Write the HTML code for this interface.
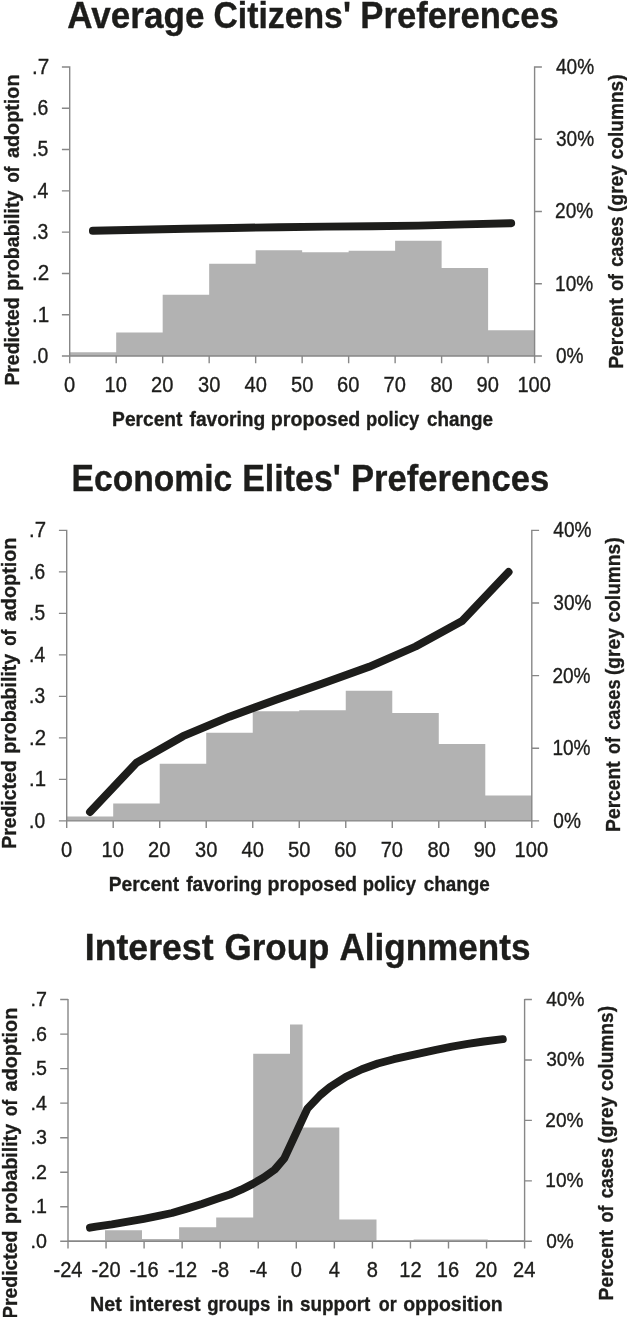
<!DOCTYPE html>
<html lang="en">
<head>
<meta charset="utf-8">
<title>Predicted probability of policy adoption</title>
<style>
html,body{margin:0;padding:0;background:#fff}
svg{display:block}
text{font-family:"Liberation Sans", sans-serif;fill:#1d1d1b;stroke:#1d1d1b;stroke-width:0.35px}
</style>
</head>
<body>
<svg width="627" height="1317" viewBox="0 0 627 1317">
<rect width="627" height="1317" fill="#fff"/>
<path d="M69.7 356V352.2H116.19V356ZM116.19 356V332.6H162.68V356ZM162.68 356V294.7H209.17V356ZM209.17 356V263.7H255.66V356ZM255.66 356V250.3H302.15V356ZM302.15 356V252.2H348.64V356ZM348.64 356V250.7H395.13V356ZM395.13 356V240.7H441.62V356ZM441.62 356V267.9H488.11V356ZM488.11 356V330.3H534.6V356ZM66.7 820.9V816.5H113.21V820.9ZM113.21 820.9V803.6H159.72V820.9ZM159.72 820.9V763.8H206.23V820.9ZM206.23 820.9V732.7H252.74V820.9ZM252.74 820.9V711.2H299.25V820.9ZM299.25 820.9V710.3H345.76V820.9ZM345.76 820.9V690.7H392.27V820.9ZM392.27 820.9V713H438.78V820.9ZM438.78 820.9V744.1H485.29V820.9ZM485.29 820.9V795.4H531.8V820.9ZM68 1241.3V1240.3H105V1241.3ZM105 1241.3V1230.2H142V1241.3ZM142 1241.3V1239H179.1V1241.3ZM179.1 1241.3V1227.3H216.2V1241.3ZM216.2 1241.3V1217.5H253.2V1241.3ZM253.2 1241.3V1053.7H290V1241.3ZM290 1241.3V1024.5H302.6V1241.3ZM302.6 1241.3V1127.5H339.3V1241.3ZM339.3 1241.3V1219.6H376.5V1241.3ZM376.5 1241.3V1240.2H413.6V1241.3ZM413.6 1241.3V1239.4H487.8V1241.3ZM487.8 1241.3V1240H524.6V1241.3Z" fill="#b2b2b2"/>
<path d="M69.7 66.35L69.7 363.2M534.6 66.35L534.6 363.2M61.9 356L541.9 356M61.9 67L69.7 67M61.9 108.29L69.7 108.29M61.9 149.57L69.7 149.57M61.9 190.86L69.7 190.86M61.9 232.14L69.7 232.14M61.9 273.43L69.7 273.43M61.9 314.71L69.7 314.71M534.6 67L541.9 67M534.6 139.25L541.9 139.25M534.6 211.5L541.9 211.5M534.6 283.75L541.9 283.75M116.19 356L116.19 363.2M162.68 356L162.68 363.2M209.17 356L209.17 363.2M255.66 356L255.66 363.2M302.15 356L302.15 363.2M348.64 356L348.64 363.2M395.13 356L395.13 363.2M441.62 356L441.62 363.2M488.11 356L488.11 363.2M66.7 529.75L66.7 828.1M531.8 529.75L531.8 828.1M58.9 820.9L539.1 820.9M58.9 530.4L66.7 530.4M58.9 571.9L66.7 571.9M58.9 613.4L66.7 613.4M58.9 654.9L66.7 654.9M58.9 696.4L66.7 696.4M58.9 737.9L66.7 737.9M58.9 779.4L66.7 779.4M531.8 530.4L539.1 530.4M531.8 603.02L539.1 603.02M531.8 675.65L539.1 675.65M531.8 748.27L539.1 748.27M113.21 820.9L113.21 828.1M159.72 820.9L159.72 828.1M206.23 820.9L206.23 828.1M252.74 820.9L252.74 828.1M299.25 820.9L299.25 828.1M345.76 820.9L345.76 828.1M392.27 820.9L392.27 828.1M438.78 820.9L438.78 828.1M485.29 820.9L485.29 828.1M68 998.9L68 1248.5M524.6 998.9L524.6 1248.5M60.2 1241.3L531.9 1241.3M60.2 999.55L68 999.55M60.2 1034.09L68 1034.09M60.2 1068.62L68 1068.62M60.2 1103.16L68 1103.16M60.2 1137.69L68 1137.69M60.2 1172.23L68 1172.23M60.2 1206.76L68 1206.76M524.6 999.55L531.9 999.55M524.6 1059.99L531.9 1059.99M524.6 1120.42L531.9 1120.42M524.6 1180.86L531.9 1180.86M106.05 1241.3L106.05 1248.5M144.1 1241.3L144.1 1248.5M182.15 1241.3L182.15 1248.5M220.2 1241.3L220.2 1248.5M258.25 1241.3L258.25 1248.5M296.3 1241.3L296.3 1248.5M334.35 1241.3L334.35 1248.5M372.4 1241.3L372.4 1248.5M410.45 1241.3L410.45 1248.5M448.5 1241.3L448.5 1248.5M486.55 1241.3L486.55 1248.5" fill="none" stroke="#878787" stroke-width="1.4"/>
<g fill="none" stroke="#1d1d1b" stroke-width="7.9" stroke-linecap="round" stroke-linejoin="round">
<path d="M92.9 230.8L139.4 229.7L185.9 228.7L232.4 227.95L278.9 227.2L325.4 226.6L371.9 226.2L418.4 225.6L464.9 224.4L511.2 223.2"/>
<path d="M90 812L136.5 762.7L183 736.2L229.5 716.7L276 699.8L322.6 683.5L369.1 666.8L415.6 646.5L462.1 621L508.6 572"/>
<path d="M90 1227.7L96 1226.6L111.9 1224.4L127.8 1221.7L143.8 1218.8L159.7 1215.6L172 1213L186 1208.9L201.9 1204L217.8 1198.6L230 1194.5L241.2 1189.7L252.3 1184.1L263.5 1177.6L274.7 1169.6L284.4 1158.2L307.4 1108.6L320.2 1095.1L330 1087L346 1076.7L361.9 1069.2L377.8 1063.5L393.8 1059.2L409.7 1055.6L420 1053.4L436 1049.8L451.9 1046.6L467.8 1043.9L483.8 1041.5L502.8 1039.2"/>
</g>
<text font-size="36.3" font-weight="bold" y="27.6"><tspan x="67.3" textLength="137.15" lengthAdjust="spacingAndGlyphs">Average</tspan> <tspan x="213.47" textLength="137.45" lengthAdjust="spacingAndGlyphs">Citizens'</tspan> <tspan x="360.29" textLength="198.54" lengthAdjust="spacingAndGlyphs">Preferences</tspan></text>
<text font-size="36.3" font-weight="bold" y="491"><tspan x="71.55" textLength="160.73" lengthAdjust="spacingAndGlyphs">Economic</tspan> <tspan x="242.23" textLength="98.7" lengthAdjust="spacingAndGlyphs">Elites'</tspan> <tspan x="350.89" textLength="198.34" lengthAdjust="spacingAndGlyphs">Preferences</tspan></text>
<text font-size="36.3" font-weight="bold" y="959.7"><tspan x="84.73" textLength="128.85" lengthAdjust="spacingAndGlyphs">Interest</tspan> <tspan x="224.44" textLength="104.99" lengthAdjust="spacingAndGlyphs">Group</tspan> <tspan x="339.4" textLength="191.05" lengthAdjust="spacingAndGlyphs">Alignments</tspan></text>
<text font-size="21" font-weight="bold" y="425.9"><tspan x="112.09" textLength="70.41" lengthAdjust="spacingAndGlyphs">Percent</tspan> <tspan x="189.5" textLength="75.76" lengthAdjust="spacingAndGlyphs">favoring</tspan> <tspan x="270.86" textLength="89.51" lengthAdjust="spacingAndGlyphs">proposed</tspan> <tspan x="366.12" textLength="53.2" lengthAdjust="spacingAndGlyphs">policy</tspan> <tspan x="427" textLength="66.01" lengthAdjust="spacingAndGlyphs">change</tspan></text>
<text font-size="21" font-weight="bold" y="890.6"><tspan x="108.79" textLength="70.41" lengthAdjust="spacingAndGlyphs">Percent</tspan> <tspan x="186.2" textLength="75.76" lengthAdjust="spacingAndGlyphs">favoring</tspan> <tspan x="267.56" textLength="89.51" lengthAdjust="spacingAndGlyphs">proposed</tspan> <tspan x="362.82" textLength="53.2" lengthAdjust="spacingAndGlyphs">policy</tspan> <tspan x="423.7" textLength="66.01" lengthAdjust="spacingAndGlyphs">change</tspan></text>
<text font-size="21" font-weight="bold" y="1310.8"><tspan x="90.06" textLength="31.73" lengthAdjust="spacingAndGlyphs">Net</tspan> <tspan x="129.26" textLength="71.23" lengthAdjust="spacingAndGlyphs">interest</tspan> <tspan x="207.2" textLength="63.2" lengthAdjust="spacingAndGlyphs">groups</tspan> <tspan x="276.92" textLength="16.41" lengthAdjust="spacingAndGlyphs">in</tspan> <tspan x="300" textLength="70.39" lengthAdjust="spacingAndGlyphs">support</tspan> <tspan x="378.7" textLength="17.95" lengthAdjust="spacingAndGlyphs">or</tspan> <tspan x="403.2" textLength="99.57" lengthAdjust="spacingAndGlyphs">opposition</tspan></text>
<text font-size="21" font-weight="bold" transform="translate(19 0) rotate(-90)" y="0"><tspan x="-385.62" textLength="88.29" lengthAdjust="spacingAndGlyphs">Predicted</tspan> <tspan x="-290.63" textLength="99.93" lengthAdjust="spacingAndGlyphs">probability</tspan> <tspan x="-182.6" textLength="15.99" lengthAdjust="spacingAndGlyphs">of</tspan> <tspan x="-158.1" textLength="83.68" lengthAdjust="spacingAndGlyphs">adoption</tspan></text>
<text font-size="21" font-weight="bold" transform="translate(15.5 0) rotate(-90)" y="0"><tspan x="-848.72" textLength="88.29" lengthAdjust="spacingAndGlyphs">Predicted</tspan> <tspan x="-753.73" textLength="99.93" lengthAdjust="spacingAndGlyphs">probability</tspan> <tspan x="-645.7" textLength="15.99" lengthAdjust="spacingAndGlyphs">of</tspan> <tspan x="-621.2" textLength="83.68" lengthAdjust="spacingAndGlyphs">adoption</tspan></text>
<text font-size="21" font-weight="bold" transform="translate(16.7 0) rotate(-90)" y="0"><tspan x="-1318.92" textLength="88.29" lengthAdjust="spacingAndGlyphs">Predicted</tspan> <tspan x="-1223.93" textLength="99.93" lengthAdjust="spacingAndGlyphs">probability</tspan> <tspan x="-1115.9" textLength="15.99" lengthAdjust="spacingAndGlyphs">of</tspan> <tspan x="-1091.4" textLength="83.68" lengthAdjust="spacingAndGlyphs">adoption</tspan></text>
<text font-size="21" font-weight="bold" transform="translate(623.1 0) rotate(-90)" y="0"><tspan x="-368.82" textLength="70.61" lengthAdjust="spacingAndGlyphs">Percent</tspan> <tspan x="-290.8" textLength="16.84" lengthAdjust="spacingAndGlyphs">of</tspan> <tspan x="-266.7" textLength="50.28" lengthAdjust="spacingAndGlyphs">cases</tspan> <tspan x="-211.91" textLength="46.82" lengthAdjust="spacingAndGlyphs">(grey</tspan> <tspan x="-159.4" textLength="85" lengthAdjust="spacingAndGlyphs">columns)</tspan></text>
<text font-size="21" font-weight="bold" transform="translate(620.2 0) rotate(-90)" y="0"><tspan x="-831.92" textLength="70.61" lengthAdjust="spacingAndGlyphs">Percent</tspan> <tspan x="-753.9" textLength="16.84" lengthAdjust="spacingAndGlyphs">of</tspan> <tspan x="-729.8" textLength="50.28" lengthAdjust="spacingAndGlyphs">cases</tspan> <tspan x="-675.01" textLength="46.82" lengthAdjust="spacingAndGlyphs">(grey</tspan> <tspan x="-622.5" textLength="85" lengthAdjust="spacingAndGlyphs">columns)</tspan></text>
<text font-size="21" font-weight="bold" transform="translate(612.9 0) rotate(-90)" y="0"><tspan x="-1300.42" textLength="70.61" lengthAdjust="spacingAndGlyphs">Percent</tspan> <tspan x="-1222.4" textLength="16.84" lengthAdjust="spacingAndGlyphs">of</tspan> <tspan x="-1198.3" textLength="50.28" lengthAdjust="spacingAndGlyphs">cases</tspan> <tspan x="-1143.51" textLength="46.82" lengthAdjust="spacingAndGlyphs">(grey</tspan> <tspan x="-1091" textLength="85" lengthAdjust="spacingAndGlyphs">columns)</tspan></text>
<text font-size="21.6" x="31.94" y="73.8" textLength="17.22" lengthAdjust="spacingAndGlyphs">.7</text>
<text font-size="21.6" x="32" y="115.09" textLength="16.21" lengthAdjust="spacingAndGlyphs">.6</text>
<text font-size="21.6" x="32" y="156.37" textLength="16.21" lengthAdjust="spacingAndGlyphs">.5</text>
<text font-size="21.6" x="32" y="197.66" textLength="16.21" lengthAdjust="spacingAndGlyphs">.4</text>
<text font-size="21.6" x="32" y="238.94" textLength="16.21" lengthAdjust="spacingAndGlyphs">.3</text>
<text font-size="21.6" x="31.94" y="280.23" textLength="17.22" lengthAdjust="spacingAndGlyphs">.2</text>
<text font-size="21.6" x="31.94" y="321.51" textLength="17.22" lengthAdjust="spacingAndGlyphs">.1</text>
<text font-size="21.6" x="32" y="362.8" textLength="16.21" lengthAdjust="spacingAndGlyphs">.0</text>
<text font-size="21.6" x="556" y="73.9" textLength="38.18" lengthAdjust="spacingAndGlyphs">40%</text>
<text font-size="21.6" x="556" y="146.15" textLength="38.18" lengthAdjust="spacingAndGlyphs">30%</text>
<text font-size="21.6" x="555.12" y="218.4" textLength="38.18" lengthAdjust="spacingAndGlyphs">20%</text>
<text font-size="21.6" x="555.12" y="290.65" textLength="38.18" lengthAdjust="spacingAndGlyphs">10%</text>
<text font-size="21.6" x="556" y="362.9" textLength="27.57" lengthAdjust="spacingAndGlyphs">0%</text>
<text font-size="21.6" x="29.06" y="537.2" textLength="17" lengthAdjust="spacingAndGlyphs">.7</text>
<text font-size="21.6" x="29.11" y="578.7" textLength="16" lengthAdjust="spacingAndGlyphs">.6</text>
<text font-size="21.6" x="29.11" y="620.2" textLength="16" lengthAdjust="spacingAndGlyphs">.5</text>
<text font-size="21.6" x="29.11" y="661.7" textLength="16" lengthAdjust="spacingAndGlyphs">.4</text>
<text font-size="21.6" x="29.11" y="703.2" textLength="16" lengthAdjust="spacingAndGlyphs">.3</text>
<text font-size="21.6" x="29.06" y="744.7" textLength="17" lengthAdjust="spacingAndGlyphs">.2</text>
<text font-size="21.6" x="29.06" y="786.2" textLength="17" lengthAdjust="spacingAndGlyphs">.1</text>
<text font-size="21.6" x="29.11" y="827.7" textLength="16" lengthAdjust="spacingAndGlyphs">.0</text>
<text font-size="21.6" x="553.3" y="537.3" textLength="38.18" lengthAdjust="spacingAndGlyphs">40%</text>
<text font-size="21.6" x="553.3" y="609.92" textLength="38.18" lengthAdjust="spacingAndGlyphs">30%</text>
<text font-size="21.6" x="552.42" y="682.55" textLength="38.18" lengthAdjust="spacingAndGlyphs">20%</text>
<text font-size="21.6" x="552.42" y="755.17" textLength="38.18" lengthAdjust="spacingAndGlyphs">10%</text>
<text font-size="21.6" x="553.3" y="827.8" textLength="27.57" lengthAdjust="spacingAndGlyphs">0%</text>
<text font-size="20.9" x="30.46" y="1006.15" textLength="16.43" lengthAdjust="spacingAndGlyphs">.7</text>
<text font-size="20.9" x="30.46" y="1040.69" textLength="16.43" lengthAdjust="spacingAndGlyphs">.6</text>
<text font-size="20.9" x="30.46" y="1075.22" textLength="16.43" lengthAdjust="spacingAndGlyphs">.5</text>
<text font-size="20.9" x="30.46" y="1109.76" textLength="16.43" lengthAdjust="spacingAndGlyphs">.4</text>
<text font-size="20.9" x="30.46" y="1144.29" textLength="16.43" lengthAdjust="spacingAndGlyphs">.3</text>
<text font-size="20.9" x="30.46" y="1178.83" textLength="16.43" lengthAdjust="spacingAndGlyphs">.2</text>
<text font-size="20.9" x="30.46" y="1213.36" textLength="16.43" lengthAdjust="spacingAndGlyphs">.1</text>
<text font-size="20.9" x="30.46" y="1247.9" textLength="16.43" lengthAdjust="spacingAndGlyphs">.0</text>
<text font-size="20.9" x="546.2" y="1005.85" textLength="38.17" lengthAdjust="spacingAndGlyphs">40%</text>
<text font-size="20.9" x="546.2" y="1066.29" textLength="38.17" lengthAdjust="spacingAndGlyphs">30%</text>
<text font-size="20.9" x="545.29" y="1126.73" textLength="38.17" lengthAdjust="spacingAndGlyphs">20%</text>
<text font-size="20.9" x="545.29" y="1187.16" textLength="38.17" lengthAdjust="spacingAndGlyphs">10%</text>
<text font-size="20.9" x="546.2" y="1247.6" textLength="27.56" lengthAdjust="spacingAndGlyphs">0%</text>
<text font-size="21.6" x="64.12" y="391.8" textLength="11.17" lengthAdjust="spacingAndGlyphs">0</text>
<text font-size="21.6" x="104.56" y="391.8" textLength="22.34" lengthAdjust="spacingAndGlyphs">10</text>
<text font-size="21.6" x="151.05" y="391.8" textLength="22.34" lengthAdjust="spacingAndGlyphs">20</text>
<text font-size="21.6" x="198.01" y="391.8" textLength="22.34" lengthAdjust="spacingAndGlyphs">30</text>
<text font-size="21.6" x="244.5" y="391.8" textLength="22.34" lengthAdjust="spacingAndGlyphs">40</text>
<text font-size="21.6" x="290.99" y="391.8" textLength="22.34" lengthAdjust="spacingAndGlyphs">50</text>
<text font-size="21.6" x="337.01" y="391.8" textLength="22.34" lengthAdjust="spacingAndGlyphs">60</text>
<text font-size="21.6" x="383.5" y="391.8" textLength="22.34" lengthAdjust="spacingAndGlyphs">70</text>
<text font-size="21.6" x="430.46" y="391.8" textLength="22.34" lengthAdjust="spacingAndGlyphs">80</text>
<text font-size="21.6" x="476.48" y="391.8" textLength="22.34" lengthAdjust="spacingAndGlyphs">90</text>
<text font-size="21.6" x="517.39" y="391.8" textLength="33.51" lengthAdjust="spacingAndGlyphs">100</text>
<text font-size="21.6" x="61.12" y="857.1" textLength="11.17" lengthAdjust="spacingAndGlyphs">0</text>
<text font-size="21.6" x="101.58" y="857.1" textLength="22.34" lengthAdjust="spacingAndGlyphs">10</text>
<text font-size="21.6" x="148.09" y="857.1" textLength="22.34" lengthAdjust="spacingAndGlyphs">20</text>
<text font-size="21.6" x="195.07" y="857.1" textLength="22.34" lengthAdjust="spacingAndGlyphs">30</text>
<text font-size="21.6" x="241.58" y="857.1" textLength="22.34" lengthAdjust="spacingAndGlyphs">40</text>
<text font-size="21.6" x="288.09" y="857.1" textLength="22.34" lengthAdjust="spacingAndGlyphs">50</text>
<text font-size="21.6" x="334.13" y="857.1" textLength="22.34" lengthAdjust="spacingAndGlyphs">60</text>
<text font-size="21.6" x="380.64" y="857.1" textLength="22.34" lengthAdjust="spacingAndGlyphs">70</text>
<text font-size="21.6" x="427.62" y="857.1" textLength="22.34" lengthAdjust="spacingAndGlyphs">80</text>
<text font-size="21.6" x="473.66" y="857.1" textLength="22.34" lengthAdjust="spacingAndGlyphs">90</text>
<text font-size="21.6" x="514.59" y="857.1" textLength="33.51" lengthAdjust="spacingAndGlyphs">100</text>
<text font-size="21.6" x="53.49" y="1276.8" textLength="29.03" lengthAdjust="spacingAndGlyphs">-24</text>
<text font-size="21.6" x="91.54" y="1276.8" textLength="29.03" lengthAdjust="spacingAndGlyphs">-20</text>
<text font-size="21.6" x="129.59" y="1276.8" textLength="29.03" lengthAdjust="spacingAndGlyphs">-16</text>
<text font-size="21.6" x="168.11" y="1276.8" textLength="29.03" lengthAdjust="spacingAndGlyphs">-12</text>
<text font-size="21.6" x="211.28" y="1276.8" textLength="17.86" lengthAdjust="spacingAndGlyphs">-8</text>
<text font-size="21.6" x="249.33" y="1276.8" textLength="17.86" lengthAdjust="spacingAndGlyphs">-4</text>
<text font-size="21.6" x="290.72" y="1276.8" textLength="11.17" lengthAdjust="spacingAndGlyphs">0</text>
<text font-size="21.6" x="328.77" y="1276.8" textLength="11.17" lengthAdjust="spacingAndGlyphs">4</text>
<text font-size="21.6" x="366.82" y="1276.8" textLength="11.17" lengthAdjust="spacingAndGlyphs">8</text>
<text font-size="21.6" x="399.29" y="1276.8" textLength="22.34" lengthAdjust="spacingAndGlyphs">12</text>
<text font-size="21.6" x="436.87" y="1276.8" textLength="22.34" lengthAdjust="spacingAndGlyphs">16</text>
<text font-size="21.6" x="474.92" y="1276.8" textLength="22.34" lengthAdjust="spacingAndGlyphs">20</text>
<text font-size="21.6" x="512.97" y="1276.8" textLength="22.34" lengthAdjust="spacingAndGlyphs">24</text>
</svg>
</body>
</html>
